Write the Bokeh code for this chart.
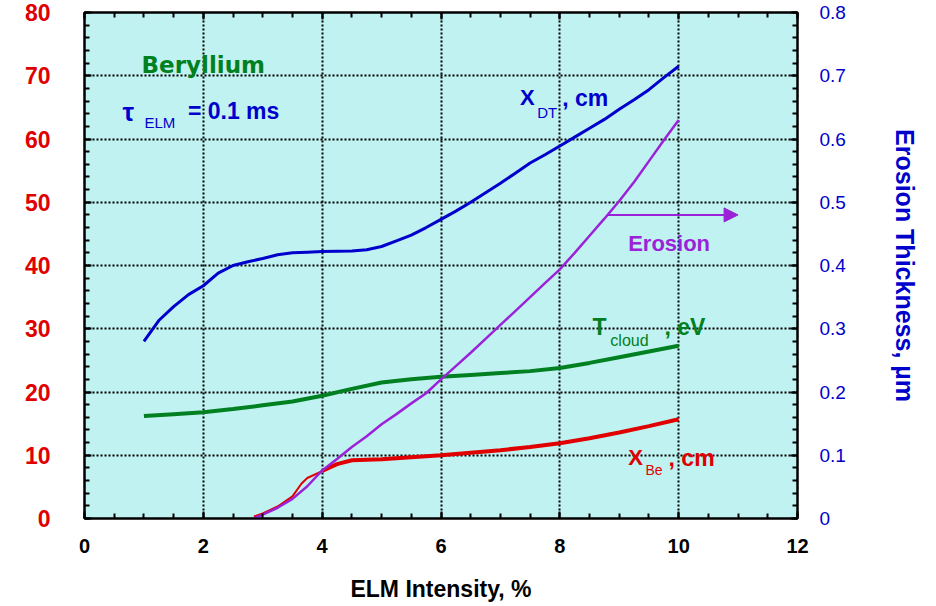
import numpy as np
from bokeh.plotting import figure
from bokeh.models import (Range1d, LinearAxis, Arrow, NormalHead,
                          FixedTicker, CustomJSTickFormatter)
from bokeh.core.properties import value
from bokeh.embed import file_html
from bokeh.resources import INLINE

# ---- data -------------------------------------------------------------
# D-T penetration depth X_DT (cm) vs ELM intensity (%)
xdt_x = [1.0, 1.25, 1.5, 1.75, 2.0, 2.25, 2.5, 2.75, 3.0, 3.25, 3.5, 3.75, 4.0,
         4.5, 4.75, 5.0, 5.25, 5.5, 5.75, 6.0, 6.25, 6.5, 6.75, 7.0, 7.25, 7.5,
         7.75, 8.0, 8.25, 8.5, 8.75, 9.0, 9.25, 9.5, 9.75, 10.0]
xdt_cm = [28.0, 31.3, 33.5, 35.4, 36.8, 38.8, 40.0, 40.6, 41.1, 41.7, 42.0, 42.1,
          42.2, 42.3, 42.5, 43.0, 43.9, 44.8, 46.0, 47.3, 48.6, 50.0, 51.5, 53.0,
          54.6, 56.2, 57.5, 58.9, 60.3, 61.7, 63.1, 64.7, 66.2, 67.8, 69.7, 71.5]

# vapour cloud temperature T_cloud (eV)
tcl_x = [1.0, 1.5, 2.0, 2.5, 3.0, 3.5, 4.0, 4.5, 5.0, 5.5, 6.0, 6.5, 7.0, 7.5,
         8.0, 8.5, 9.0, 9.5, 10.0]
tcl_ev = [16.2, 16.5, 16.8, 17.3, 17.9, 18.5, 19.4, 20.5, 21.5, 22.0, 22.4, 22.7,
          23.0, 23.3, 23.8, 24.6, 25.5, 26.4, 27.3]

# beryllium vapour extent X_Be (cm)
xbe_x = [2.85, 3.0, 3.25, 3.5, 3.65, 3.75, 4.0, 4.25, 4.5, 5.0, 5.5, 6.0, 6.5,
         7.0, 7.5, 8.0, 8.5, 9.0, 9.5, 10.0]
xbe_cm = [0.3, 0.8, 1.9, 3.5, 5.5, 6.4, 7.5, 8.6, 9.2, 9.35, 9.7, 10.0, 10.4,
          10.8, 11.3, 11.9, 12.7, 13.6, 14.6, 15.7]

# erosion thickness (um), right axis
ero_x = [2.85, 3.0, 3.25, 3.5, 3.75, 4.0, 4.25, 4.5, 4.75, 5.0, 5.25, 5.5, 5.75,
         6.0, 6.25, 6.5, 6.75, 7.0, 7.25, 7.5, 7.75, 8.0, 8.25, 8.5, 8.75, 9.0,
         9.25, 9.5, 9.75, 10.0]
ero_um = [0.0, 0.006, 0.017, 0.031, 0.051, 0.076, 0.094, 0.113, 0.13, 0.149,
          0.165, 0.182, 0.198, 0.22, 0.241, 0.262, 0.284, 0.306, 0.328, 0.35,
          0.372, 0.394, 0.42, 0.447, 0.474, 0.502, 0.532, 0.565, 0.598, 0.63]

x_ticks = [0, 2, 4, 6, 8, 10, 12]
y_ticks = [0, 10, 20, 30, 40, 50, 60, 70, 80]
er_ticks = [0.0, 0.1, 0.2, 0.3, 0.4, 0.5, 0.6, 0.7, 0.8]
arrow_level = 0.48   # erosion value where the axis pointer starts
arrow_end_x = 11.0

# ---- colours / fonts --------------------------------------------------
BLUE = "#0000CC"
GREEN = "#008020"
RED = "#E00000"
PURPLE = "#9B22D8"
BG = "#C0F2F2"
FONT = "Liberation Sans"

p = figure(width=936, height=606, output_backend="svg", toolbar_location=None,
           x_range=Range1d(0, 12), y_range=Range1d(0, 80),
           min_border_left=84, min_border_right=139, min_border_top=12,
           min_border_bottom=88,
           background_fill_color=BG, border_fill_color="white",
           outline_line_color="black", outline_line_width=2)
p.extra_y_ranges = {"er": Range1d(0, 0.8)}

# bottom axis
xa = p.xaxis[0]
xa.ticker = FixedTicker(ticks=x_ticks, minor_ticks=list(np.arange(0, 12.01, 0.5)))
xa.axis_label = "ELM Intensity, %"
xa.axis_label_text_font = FONT
xa.axis_label_text_font_size = "23px"
xa.axis_label_text_font_style = "bold"
xa.axis_label_text_color = "black"
xa.axis_label_standoff = 20
xa.major_label_text_font = FONT
xa.major_label_text_font_size = "20px"
xa.major_label_text_font_style = "bold"
xa.major_label_text_color = "black"
xa.major_label_standoff = 20

# left axis
ya = p.yaxis[0]
ya.ticker = FixedTicker(ticks=y_ticks, minor_ticks=list(range(0, 81, 2)))
ya.major_label_text_font = FONT
ya.major_label_text_font_size = "23px"
ya.major_label_text_font_style = "bold"
ya.major_label_text_color = RED
ya.major_label_standoff = 34

# right axis for erosion thickness
ra = LinearAxis(y_range_name="er",
                ticker=FixedTicker(ticks=er_ticks,
                                   minor_ticks=[i / 50 for i in range(41)]),
                formatter=CustomJSTickFormatter(
                    code="return tick === 0 ? '0' : tick.toFixed(1);"))
ra.axis_label = "Erosion Thickness, µm"
ra.axis_label_text_font = FONT
ra.axis_label_text_font_size = "25px"
ra.axis_label_text_font_style = "bold"
ra.axis_label_text_color = BLUE
ra.axis_label_standoff = 42
ra.major_label_text_font = FONT
ra.major_label_text_font_size = "19px"
ra.major_label_text_font_style = "normal"
ra.major_label_text_color = BLUE
ra.major_label_standoff = 22
p.add_layout(ra, "right")

# top axis: ticks only, no labels
ta = LinearAxis(ticker=FixedTicker(ticks=x_ticks,
                                   minor_ticks=list(np.arange(0, 12.01, 0.5))),
                formatter=CustomJSTickFormatter(code="return '';"))
ta.major_label_standoff = 0
p.add_layout(ta, "above")

for ax in (xa, ya, ra, ta):
    ax.axis_line_color = "black"
    ax.axis_line_width = 2
    ax.major_tick_line_color = "black"
    ax.minor_tick_line_color = "black"
    ax.major_tick_line_width = 2
    ax.minor_tick_line_width = 2
    ax.major_tick_in = 7
    ax.major_tick_out = 0
    ax.minor_tick_in = 5
    ax.minor_tick_out = 0

# dotted grid
for g in (p.xgrid[0], p.ygrid[0]):
    g.grid_line_color = "black"
    g.grid_line_width = 2
    g.grid_line_dash = "2 2"

# ---- curves -----------------------------------------------------------
p.line(xdt_x, xdt_cm, line_color=BLUE, line_width=3)
p.line(tcl_x, tcl_ev, line_color=GREEN, line_width=4)
k = xbe_x.index(4.0)
p.line(xbe_x[:k + 1], xbe_cm[:k + 1], line_color=RED, line_width=2)
p.line(xbe_x[k:], xbe_cm[k:], line_color=RED, line_width=4)
p.line(ero_x, ero_um, line_color=PURPLE, line_width=2.5, y_range_name="er")

# arrow from erosion curve towards its axis
x_arrow = float(np.interp(arrow_level, ero_um, ero_x))
p.add_layout(Arrow(end=NormalHead(size=14, fill_color=PURPLE, line_color=PURPLE),
                   x_start=x_arrow, y_start=arrow_level,
                   x_end=arrow_end_x, y_end=arrow_level,
                   y_range_name="er", line_color=PURPLE, line_width=2))


# ---- text annotations ---------------------------------------------------
def txt(x, y, s, color, size, bold=True, font=FONT):
    p.text(x=[x], y=[y], text=[s], text_color=color,
           text_font=value(font), text_font_size=size,
           text_font_style="bold" if bold else "normal",
           text_baseline="alphabetic", text_align="left")


txt(0.96, 71.7, "Beryllium", GREEN, "23px", font="DejaVu Sans")
txt(0.64, 64.3, "τ", BLUE, "26px")
txt(1.01, 62.6, "ELM", BLUE, "15px", bold=False)
txt(1.74, 64.4, "= 0.1 ms", BLUE, "23px")

txt(7.33, 66.5, "X", BLUE, "22px")
txt(7.62, 64.2, "DT", BLUE, "15px", bold=False)
txt(8.04, 66.5, ", cm", BLUE, "23px")

txt(9.15, 43.5, "Erosion", PURPLE, "22px")

txt(8.55, 30.2, "T", GREEN, "23px")
txt(8.85, 28.1, "cloud", GREEN, "16px", bold=False)
txt(9.76, 30.2, ", eV", GREEN, "23px")

txt(9.15, 9.6, "X", RED, "22px")
txt(9.44, 7.6, "Be", RED, "14px", bold=False)
txt(9.83, 9.6, ", cm", RED, "23px")

open("out.html", "w").write(file_html(p, INLINE))
